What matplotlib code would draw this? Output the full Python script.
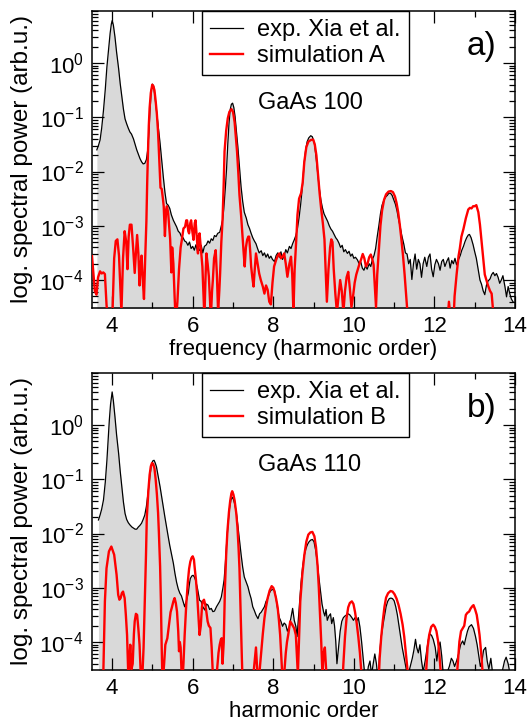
import matplotlib
matplotlib.use('Agg')
import matplotlib.pyplot as plt
import numpy as np
from matplotlib.ticker import FixedLocator, LogLocator, NullFormatter, FuncFormatter

plt.rcParams['font.family'] = ['Liberation Sans', 'DejaVu Sans']
plt.rcParams['mathtext.default'] = 'regular'
plt.rcParams['axes.unicode_minus'] = False

# panel a) GaAs 100 -- experiment (x = harmonic order, log10 of spectral power)
exp_a_x = [3.62, 3.66, 3.70, 3.74, 3.785, 3.83, 3.87, 3.91, 3.95, 3.98, 4.00, 4.03, 4.07, 4.11, 4.16, 4.20,
           4.24, 4.28, 4.32, 4.36, 4.40, 4.44, 4.48, 4.53, 4.57, 4.61, 4.65, 4.69, 4.73, 4.77, 4.81, 4.85,
           4.88, 4.91, 4.94, 4.97, 5.00, 5.03, 5.06, 5.10, 5.14, 5.19, 5.23, 5.27, 5.31, 5.35, 5.39, 5.43,
           5.47, 5.52, 5.56, 5.60, 5.64, 5.68, 5.72, 5.76, 5.80, 5.84, 5.88, 5.92, 5.96, 6.00, 6.04, 6.08,
           6.12, 6.17, 6.21, 6.25, 6.29, 6.34, 6.38, 6.42, 6.46, 6.50, 6.54, 6.58, 6.62, 6.67, 6.71, 6.74,
           6.77, 6.81, 6.84, 6.87, 6.90, 6.93, 6.96, 6.99, 7.02, 7.05, 7.08, 7.12, 7.16, 7.20, 7.24, 7.28,
           7.33, 7.37, 7.41, 7.45, 7.49, 7.53, 7.57, 7.61, 7.65, 7.70, 7.74, 7.78, 7.82, 7.86, 7.90, 7.94,
           7.98, 8.03, 8.07, 8.11, 8.15, 8.19, 8.23, 8.27, 8.31, 8.35, 8.40, 8.44, 8.48, 8.52, 8.56, 8.60,
           8.64, 8.68, 8.72, 8.76, 8.80, 8.84, 8.88, 8.93, 8.97, 9.02, 9.06, 9.10, 9.14, 9.18, 9.22, 9.26,
           9.31, 9.35, 9.39, 9.43, 9.47, 9.51, 9.55, 9.59, 9.63, 9.67, 9.71, 9.75, 9.79, 9.84, 9.88, 9.92,
           9.96, 10.00, 10.04, 10.09, 10.13, 10.17, 10.21, 10.25, 10.29, 10.33, 10.38, 10.42, 10.46, 10.50,
           10.54, 10.58, 10.62, 10.66, 10.70, 10.75, 10.79, 10.83, 10.87, 10.91, 10.95, 10.99, 11.03, 11.07,
           11.11, 11.15, 11.19, 11.24, 11.28, 11.32, 11.36, 11.40, 11.44, 11.48, 11.52, 11.56, 11.60, 11.64,
           11.68, 11.72, 11.76, 11.81, 11.85, 11.89, 11.93, 11.97, 12.01, 12.05, 12.10, 12.14, 12.18, 12.22,
           12.26, 12.31, 12.35, 12.39, 12.43, 12.47, 12.51, 12.55, 12.60, 12.64, 12.68, 12.72, 12.76, 12.80,
           12.84, 12.87, 12.91, 12.96, 13.00, 13.04, 13.09, 13.13, 13.17, 13.21, 13.25, 13.29, 13.33, 13.38,
           13.42, 13.46, 13.50, 13.54, 13.58, 13.62, 13.66, 13.70, 13.75, 13.79, 13.83, 13.87, 13.91, 13.95]
exp_a_log = [-1.60, -1.52, -1.42, -1.20, -0.87, -0.48, -0.07, 0.25, 0.55, 0.72, 0.78, 0.70, 0.48, 0.20, -0.10, -0.38,
             -0.62, -0.85, -1.03, -1.12, -1.20, -1.27, -1.31, -1.40, -1.50, -1.60, -1.68, -1.76, -1.82, -1.86, -1.85, -1.78,
             -1.62, -1.30, -0.87, -0.50, -0.39, -0.43, -0.60, -0.87, -1.15, -1.48, -1.80, -2.10, -2.38, -2.59, -2.62, -2.68,
             -2.80, -2.90, -2.96, -3.02, -3.10, -3.13, -3.20, -3.22, -3.28, -3.30, -3.36, -3.30, -3.42, -3.38, -3.45, -3.35,
             -3.47, -3.45, -3.36, -3.50, -3.38, -3.35, -3.28, -3.32, -3.24, -3.27, -3.18, -3.20, -3.14, -3.12, -3.00, -2.90,
             -2.70, -2.30, -1.95, -1.50, -1.12, -0.86, -0.76, -0.74, -0.82, -0.98, -1.22, -1.54, -1.92, -2.28, -2.55, -2.75,
             -2.86, -2.98, -3.05, -3.14, -3.22, -3.28, -3.33, -3.42, -3.50, -3.46, -3.55, -3.50, -3.58, -3.52, -3.60, -3.56,
             -3.62, -3.66, -3.55, -3.50, -3.58, -3.48, -3.62, -3.55, -3.44, -3.50, -3.38, -3.42, -3.33, -3.26, -3.18, -3.05,
             -2.85, -2.60, -2.30, -1.90, -1.62, -1.45, -1.38, -1.34, -1.36, -1.48, -1.72, -2.02, -2.30, -2.52, -2.67, -2.78,
             -2.86, -2.92, -3.00, -3.06, -3.10, -3.16, -3.22, -3.26, -3.32, -3.40, -3.36, -3.48, -3.44, -3.51, -3.47, -3.56,
             -3.52, -3.60, -3.58, -3.63, -3.70, -3.66, -3.78, -3.82, -3.74, -3.80, -3.70, -3.75, -3.62, -3.55,
             -3.42, -3.20, -3.00, -2.78, -2.62, -2.52, -2.47, -2.44, -2.40, -2.40, -2.44, -2.52, -2.60, -2.72,
             -2.88, -3.02, -3.18, -3.34, -3.50, -3.52, -3.70, -3.62, -3.99, -3.70, -3.52, -3.80, -3.62, -3.70,
             -3.95, -3.70, -3.58, -3.75, -3.58, -3.52, -3.80, -3.94, -3.72, -3.62, -3.70, -3.82, -3.66, -3.62,
             -3.75, -3.65, -3.59, -3.78, -3.64, -3.70, -3.60, -3.72, -3.62, -3.55, -3.45, -3.38, -3.29, -3.22,
             -3.17, -3.16, -3.22, -3.35, -3.48, -3.60, -3.82, -4.00, -4.08, -4.20, -4.27, -4.10, -4.02, -3.98,
             -3.90, -3.86, -3.92, -3.88, -3.95, -4.06, -4.00, -3.92, -4.12, -4.31, -4.12, -4.25, -4.35, -4.40]

# panel a) simulation A
sim_a_x = [3.50, 3.53, 3.57, 3.61, 3.65, 3.70, 3.74, 3.78, 3.82, 3.86, 3.90, 3.95, 4.00, 4.05, 4.09, 4.13,
           4.17, 4.20, 4.23, 4.27, 4.31, 4.35, 4.38, 4.41, 4.44, 4.48, 4.52, 4.56, 4.59, 4.62, 4.65, 4.68,
           4.71, 4.73, 4.76, 4.79, 4.82, 4.85, 4.87, 4.89, 4.91, 4.93, 4.96, 4.995, 5.02, 5.05, 5.08, 5.11,
           5.14, 5.16, 5.18, 5.20, 5.23, 5.26, 5.28, 5.31, 5.34, 5.36, 5.39, 5.42, 5.44, 5.47, 5.49, 5.52,
           5.55, 5.58, 5.62, 5.66, 5.70, 5.73, 5.77, 5.81, 5.84, 5.86, 5.89, 5.91, 5.94, 5.96, 5.99, 6.02,
           6.05, 6.07, 6.10, 6.13, 6.15, 6.17, 6.20, 6.24, 6.27, 6.29, 6.32, 6.34, 6.37, 6.40, 6.43, 6.45,
           6.48, 6.50, 6.53, 6.57, 6.60, 6.63, 6.66, 6.68, 6.71, 6.74, 6.77, 6.79, 6.83, 6.87, 6.91, 6.96,
           7.00, 7.04, 7.07, 7.10, 7.13, 7.16, 7.20, 7.23, 7.26, 7.29, 7.32, 7.35, 7.38, 7.40, 7.43, 7.45,
           7.48, 7.51, 7.54, 7.57, 7.61, 7.65, 7.69, 7.74, 7.78, 7.82, 7.86, 7.90, 7.94, 7.98, 8.02, 8.07,
           8.11, 8.15, 8.19, 8.23, 8.27, 8.31, 8.35, 8.40, 8.44, 8.47, 8.50, 8.53, 8.57, 8.60, 8.64, 8.69,
           8.73, 8.77, 8.82, 8.87, 8.93, 8.99, 9.03, 9.07, 9.11, 9.15, 9.19, 9.23, 9.27, 9.30, 9.33, 9.37,
           9.41, 9.44, 9.47, 9.50, 9.54, 9.58, 9.62, 9.66, 9.70, 9.74, 9.78, 9.82, 9.86, 9.90, 9.94, 9.98,
           10.02, 10.06, 10.10, 10.14, 10.18, 10.22, 10.26, 10.30, 10.34, 10.38, 10.42, 10.46, 10.49, 10.52,
           10.55, 10.58, 10.62, 10.66, 10.70, 10.75, 10.80, 10.86, 10.92, 10.97, 11.02, 11.06, 11.10, 11.14,
           11.18, 11.22, 11.26, 11.30, 11.34, 11.40, 12.30, 12.36, 12.40, 12.46, 12.50, 12.55, 12.60, 12.63,
           12.67, 12.72, 12.78, 12.84, 12.88, 12.92, 12.96, 13.00, 13.04, 13.09, 13.13, 13.17, 13.21, 13.25,
           13.29, 13.33, 13.38, 13.42, 13.46, 13.50]
sim_a_log = [-3.56, -3.83, -4.20, -4.27, -3.95, -3.84, -3.88, -3.86, -3.89, -4.45, -4.80, -5.00, -4.80, -3.60, -3.28, -3.25,
             -3.55, -4.10, -4.60, -3.60, -3.10, -3.30, -3.80, -3.20, -2.98, -2.98, -3.40, -3.87, -3.50, -3.17, -3.50, -4.10,
             -3.70, -3.55, -4.00, -4.35, -3.60, -2.92, -2.20, -1.63, -1.15, -0.83, -0.55, -0.40, -0.42, -0.50, -0.70, -0.94,
             -1.28, -1.61, -1.98, -2.30, -2.32, -2.50, -2.64, -3.19, -2.70, -2.64, -2.76, -3.05, -3.25, -3.86, -3.40, -3.70,
             -4.30, -4.80, -4.40, -3.80, -3.40, -3.26, -3.05, -3.02, -2.90, -2.90, -3.10, -3.14, -2.95, -2.90, -3.10, -3.26,
             -2.95, -2.90, -3.20, -3.51, -3.20, -3.14, -3.40, -3.75, -4.30, -4.70, -3.90, -3.51, -3.70, -3.93, -4.40, -4.70,
             -4.20, -4.00, -3.60, -3.45, -3.90, -4.60, -4.20, -3.88, -3.30, -2.90, -2.20, -1.63, -1.25, -1.02, -0.90, -0.85,
             -0.90, -1.09, -1.35, -1.63, -2.00, -2.43, -2.80, -3.14, -3.45, -3.75, -3.40, -3.26, -3.20, -3.20, -3.50, -3.75,
             -3.95, -4.12, -3.80, -3.51, -3.70, -3.88, -4.00, -4.12, -4.25, -4.10, -4.18, -4.40, -4.45, -4.05, -3.75, -3.63,
             -3.55, -3.51, -3.60, -3.57, -3.51, -3.70, -3.94, -3.70, -3.57, -3.90, -4.60, -3.80, -3.26, -2.80, -2.50, -2.40,
             -2.20, -1.82, -1.55, -1.45, -1.42, -1.41, -1.50, -1.70, -2.05, -2.40, -2.70, -2.95, -3.25, -3.85, -4.40, -3.80,
             -3.40, -3.25, -3.30, -3.80, -4.25, -4.60, -4.30, -4.00, -4.20, -4.60, -4.20, -3.95, -3.85, -4.15, -4.50, -4.30,
             -4.05, -3.90, -3.80, -3.70, -3.62, -3.52, -3.60, -3.75, -3.70, -3.58, -3.53, -3.62, -3.72, -4.10,
             -4.50, -3.90, -3.46, -3.00, -2.72, -2.52, -2.42, -2.37, -2.36, -2.38, -2.46, -2.58, -2.75, -2.98,
             -3.25, -3.55, -3.90, -4.30, -4.70, -5.00, -5.00, -4.40, -4.70, -5.00, -4.30, -3.90, -3.55, -3.42,
             -3.20, -3.06, -2.86, -2.70, -2.67, -2.68, -2.64, -2.64, -2.62, -2.75, -2.98, -3.29, -3.60, -3.90,
             -4.00, -4.10, -4.20, -4.25, -4.60, -5.00]

# panel b) GaAs 110 -- experiment
exp_b_x = [3.66, 3.70, 3.74, 3.785, 3.83, 3.87, 3.90, 3.93, 3.96, 4.00, 4.03, 4.07, 4.11, 4.16, 4.20, 4.24,
           4.28, 4.32, 4.36, 4.40, 4.44, 4.49, 4.53, 4.57, 4.61, 4.65, 4.69, 4.73, 4.77, 4.81, 4.85, 4.90,
           4.94, 4.98, 5.01, 5.04, 5.07, 5.10, 5.14, 5.19, 5.23, 5.27, 5.31, 5.35, 5.39, 5.43, 5.47, 5.52,
           5.56, 5.60, 5.64, 5.68, 5.72, 5.76, 5.80, 5.84, 5.89, 5.92, 5.94, 5.98, 6.01, 6.04, 6.07, 6.12,
           6.17, 6.21, 6.25, 6.30, 6.34, 6.38, 6.42, 6.46, 6.50, 6.54, 6.59, 6.63, 6.67, 6.71, 6.75, 6.78,
           6.81, 6.84, 6.88, 6.91, 6.95, 6.98, 7.01, 7.04, 7.08, 7.12, 7.16, 7.20, 7.24, 7.28, 7.33, 7.37,
           7.41, 7.45, 7.49, 7.53, 7.57, 7.62, 7.66, 7.70, 7.74, 7.78, 7.82, 7.86, 7.90, 7.94, 7.98, 8.03,
           8.07, 8.11, 8.15, 8.19, 8.23, 8.27, 8.31, 8.35, 8.40, 8.44, 8.48, 8.52, 8.56, 8.59, 8.62, 8.65,
           8.69, 8.73, 8.77, 8.81, 8.85, 8.89, 8.93, 8.97, 9.01, 9.05, 9.09, 9.13, 9.17, 9.21, 9.25, 9.28,
           9.31, 9.34, 9.38, 9.42, 9.45, 9.49, 9.52, 9.55, 9.58, 9.62, 9.66, 9.70, 9.74, 9.78, 9.82, 9.86,
           9.90, 9.95, 9.99, 10.03, 10.07, 10.11, 10.15, 10.19, 10.23, 10.27, 10.31, 10.36, 10.40, 10.44,
           10.48, 10.52, 10.56, 10.60, 10.64, 10.68, 10.72, 10.76, 10.80, 10.84, 10.88, 10.92, 10.96, 11.00,
           11.04, 11.08, 11.12, 11.16, 11.20, 11.25, 11.30, 11.35, 11.40, 11.45, 11.49, 11.53, 11.56, 11.60,
           11.64, 11.68, 11.72, 11.77, 11.81, 11.85, 11.89, 11.93, 11.97, 12.02, 12.06, 12.10, 12.14, 12.18,
           12.22, 12.27, 12.32, 12.37, 12.42, 12.46, 12.50, 12.55, 12.60, 12.65, 12.70, 12.74, 12.78, 12.82,
           12.86, 12.92, 12.97, 13.02, 13.06, 13.10, 13.14, 13.18, 13.22, 13.27, 13.31, 13.35, 13.40, 13.44,
           13.50, 13.56, 13.62, 13.68, 13.74, 13.78, 13.83, 13.88, 13.93]
exp_b_log = [-1.75, -1.66, -1.55, -1.38, -1.05, -0.65, -0.28, 0.09, 0.38, 0.61, 0.45, 0.15, -0.18, -0.52, -0.85, -1.14,
             -1.42, -1.63, -1.74, -1.80, -1.84, -1.88, -1.90, -1.92, -1.92, -1.88, -1.85, -1.81, -1.74, -1.66, -1.50, -1.20,
             -0.92, -0.71, -0.66, -0.65, -0.70, -0.77, -0.93, -1.14, -1.33, -1.51, -1.70, -1.88, -2.05, -2.22, -2.37, -2.55,
             -2.74, -2.90, -3.02, -3.10, -3.15, -3.25, -3.35, -3.25, -3.10, -2.92, -2.83, -2.78, -2.77, -2.80, -2.86, -3.02,
             -3.23, -3.25, -3.35, -3.41, -3.30, -3.32, -3.40, -3.38, -3.44, -3.43, -3.35, -3.30, -3.25, -3.17, -3.00, -2.85,
             -2.55, -2.20, -1.80, -1.55, -1.38, -1.33, -1.37, -1.45, -1.60, -1.85, -2.12, -2.38, -2.62, -2.80, -2.90, -2.98,
             -3.10, -3.20, -3.35, -3.42, -3.50, -3.57, -3.48, -3.45, -3.40, -3.35, -3.25, -3.20, -3.10, -3.05, -3.03, -3.05,
             -3.20, -3.41, -3.55, -3.62, -3.71, -3.65, -3.68, -3.80, -3.71, -3.55, -3.38, -3.60, -3.71, -3.90, -3.60, -3.30,
             -2.90, -2.60, -2.40, -2.28, -2.20, -2.15, -2.12, -2.11, -2.15, -2.30, -2.52, -2.80, -3.05, -3.30, -3.45, -3.52,
             -3.40, -3.60, -3.52, -3.48, -3.66, -3.55, -3.70, -3.98, -4.40, -4.10, -3.80, -3.62, -3.55, -3.52, -3.50, -3.48,
             -3.50, -3.55, -3.60, -3.55, -3.62, -3.55, -3.72, -3.98, -4.30, -4.60, -4.70, -4.45, -4.35, -4.60,
             -4.40, -4.22, -4.40, -4.70, -4.20, -3.90, -3.70, -3.52, -3.35, -3.25, -3.20, -3.19, -3.20, -3.24,
             -3.35, -3.50, -3.70, -3.90, -4.10, -4.30, -4.50, -4.60, -4.45, -4.30, -4.15, -3.95, -4.10, -4.20,
             -4.05, -4.35, -4.55, -4.35, -4.15, -3.95, -3.85, -3.88, -3.95, -4.10, -4.35, -4.10, -4.00, -4.25,
             -4.60, -4.65, -4.55, -4.45, -4.30, -4.35, -4.45, -4.35, -4.22, -4.05, -3.98, -4.05, -3.92, -3.80,
             -3.72, -3.68, -3.75, -3.90, -4.05, -4.25, -4.45, -4.35, -4.15, -4.10, -4.35, -4.50, -4.30, -4.55,
             -4.70, -4.80, -4.60, -4.55, -4.35, -4.28, -4.40, -4.60, -4.70]

# panel b) simulation B
sim_b_x = [3.74, 3.78, 3.82, 3.86, 3.92, 3.98, 4.05, 4.11, 4.15, 4.18, 4.21, 4.24, 4.27, 4.31, 4.34, 4.37,
           4.40, 4.43, 4.45, 4.48, 4.51, 4.54, 4.56, 4.59, 4.62, 4.65, 4.68, 4.71, 4.74, 4.78, 4.81, 4.84,
           4.86, 4.90, 4.93, 4.96, 4.99, 5.02, 5.05, 5.08, 5.11, 5.14, 5.16, 5.19, 5.21, 5.23, 5.25, 5.29,
           5.32, 5.37, 5.42, 5.45, 5.48, 5.52, 5.55, 5.58, 5.61, 5.64, 5.66, 5.68, 5.70, 5.72, 5.74, 5.77,
           5.80, 5.84, 5.88, 5.91, 5.94, 5.97, 6.00, 6.03, 6.05, 6.08, 6.11, 6.14, 6.17, 6.20, 6.23, 6.25,
           6.28, 6.31, 6.34, 6.37, 6.40, 6.44, 6.47, 6.50, 6.55, 6.60, 6.64, 6.67, 6.70, 6.72, 6.74, 6.77,
           6.80, 6.83, 6.86, 6.90, 6.93, 6.96, 6.98, 7.01, 7.04, 7.08, 7.11, 7.14, 7.16, 7.18, 7.20, 7.22,
           7.24, 7.35, 7.48, 7.53, 7.57, 7.60, 7.64, 7.70, 7.74, 7.78, 7.82, 7.86, 7.91, 7.96, 8.00, 8.03,
           8.07, 8.11, 8.14, 8.17, 8.20, 8.23, 8.27, 8.31, 8.34, 8.37, 8.42, 8.47, 8.52, 8.56, 8.59, 8.61,
           8.64, 8.67, 8.72, 8.77, 8.82, 8.87, 8.92, 8.97, 9.02, 9.06, 9.10, 9.13, 9.16, 9.19, 9.22, 9.25,
           9.28, 9.31, 9.35, 9.70, 9.74, 9.78, 9.82, 9.86, 9.90, 9.95, 9.99, 10.03, 10.07, 10.11, 10.15, 10.19,
           10.23, 10.60, 10.64, 10.68, 10.72, 10.76, 10.80, 10.85, 10.91, 10.96, 11.01, 11.06, 11.11, 11.16,
           11.21, 11.25, 11.29, 11.33, 11.37, 11.45, 11.75, 11.79, 11.83, 11.87, 11.92, 11.97, 12.01, 12.05,
           12.09, 12.12, 12.15, 12.18, 12.25, 12.52, 12.57, 12.62, 12.66, 12.70, 12.74, 12.78, 12.82, 12.86,
           12.90, 12.94, 12.97, 13.01, 13.05, 13.09, 13.12, 13.16, 13.20, 13.24]
sim_b_log = [-5.00, -4.60, -3.25, -2.64, -2.33, -2.24, -2.39, -2.76, -3.13, -3.22, -3.19, -3.10, -3.07, -3.19, -3.50, -3.87,
             -4.60, -4.30, -4.05, -4.50, -4.40, -3.85, -3.62, -3.48, -3.50, -3.75, -4.05, -4.60, -4.80, -4.10, -3.25, -2.40,
             -1.71, -1.20, -0.92, -0.76, -0.70, -0.72, -0.80, -1.00, -1.27, -1.62, -1.98, -2.60, -3.25, -4.10, -4.80, -4.40,
             -4.05, -3.93, -3.62, -3.45, -3.37, -3.25, -3.19, -3.28, -3.44, -3.80, -4.17, -4.00, -4.10, -4.50, -4.80, -4.40,
             -3.87, -3.30, -2.88, -2.65, -2.52, -2.45, -2.42, -2.48, -2.64, -2.85, -3.13, -3.50, -3.87, -3.70, -3.35, -3.25,
             -3.22, -3.31, -3.45, -3.62, -3.70, -3.74, -4.10, -4.60, -4.80, -4.55, -4.20, -4.05, -3.95, -3.93, -4.40, -4.00,
             -3.00, -2.40, -1.97, -1.60, -1.40, -1.26, -1.22, -1.28, -1.39, -1.62, -1.88, -2.30, -2.64, -3.20, -3.74, -4.30,
             -4.80, -5.00, -4.80, -4.40, -4.10, -4.50, -4.70, -4.20, -3.85, -3.56, -3.35, -3.19, -3.05, -2.97, -3.00, -3.07,
             -3.20, -3.37, -3.60, -3.87, -4.30, -4.70, -4.60, -4.20, -4.00, -3.87, -3.62, -3.68, -3.75, -3.87, -4.30, -4.60,
             -3.90, -3.25, -2.76, -2.40, -2.15, -2.02, -1.98, -1.97, -2.05, -2.25, -2.60, -3.00, -3.50, -4.00, -4.60, -4.20,
             -4.10, -4.50, -5.00, -5.00, -4.40, -3.90, -3.55, -3.36, -3.28, -3.25, -3.30, -3.45, -3.65, -3.90, -4.20, -4.60,
             -5.00, -5.00, -4.30, -3.90, -3.60, -3.35, -3.18, -3.10, -3.06, -3.07, -3.12, -3.20, -3.32, -3.48,
             -3.68, -3.90, -4.20, -4.50, -4.80, -5.00, -5.00, -4.60, -4.10, -3.87, -3.72, -3.68, -3.72, -3.80,
             -3.98, -4.20, -4.50, -4.80, -5.00, -5.00, -4.50, -3.99, -3.80, -3.75, -3.70, -3.50, -3.46, -3.44,
             -3.38, -3.34, -3.32, -3.40, -3.50, -3.70, -3.87, -4.20, -4.60, -5.00]

panels = [
    ('a)', 'GaAs 100', 'simulation A', 'frequency (harmonic order)', exp_a_x, exp_a_log, sim_a_x, sim_a_log),
    ('b)', 'GaAs 110', 'simulation B', 'harmonic order', exp_b_x, exp_b_log, sim_b_x, sim_b_log),
]

fig = plt.figure(figsize=(5.30, 7.23), dpi=100)
rects = [[0.1736, 0.5740, 0.7981, 0.4108], [0.1736, 0.0733, 0.7981, 0.4108]]

for rect, (tag, sample, sim_name, xlabel, ex, ey, sx, sy) in zip(rects, panels):
    ax = fig.add_axes(rect)
    ex = np.array(ex)
    ey = 10.0 ** np.array(ey)
    sx = np.array(sx)
    sy = 10.0 ** np.array(sy)

    ax.fill_between(ex, ey, 1e-7, color='#d9d9d9', lw=0, zorder=1)
    ax.plot(ex, ey, color='black', lw=0.9, zorder=2, label='exp. Xia et al.')
    ax.plot(sx, sy, color='#ff0000', lw=1.7, zorder=3, label=sim_name)

    ax.set_yscale('log')
    ax.set_xlim(3.5, 14)
    ax.set_ylim(3.05e-5, 9.1)

    ax.xaxis.set_major_locator(FixedLocator([4, 6, 8, 10, 12, 14]))
    ax.xaxis.set_minor_locator(FixedLocator([5, 7, 9, 11, 13]))
    ax.yaxis.set_major_locator(FixedLocator([1e-4, 1e-3, 1e-2, 1e-1, 1e0]))
    ax.yaxis.set_minor_locator(LogLocator(base=10, subs=np.arange(2, 10)))
    ax.yaxis.set_minor_formatter(NullFormatter())
    ax.yaxis.set_major_formatter(FuncFormatter(lambda v, p: '$10^{%d}$' % round(np.log10(v))))

    ax.tick_params(which='both', direction='in', top=True, right=True, width=0.9, labelsize=16)
    ax.tick_params(which='major', length=8.5, pad=6)
    ax.tick_params(which='minor', length=4.5)
    for sp in ax.spines.values():
        sp.set_linewidth(1.1)

    ax.set_ylabel('log. spectral power (arb.u.)', fontsize=17.5)
    ax.yaxis.set_label_coords(-0.14, 0.5)
    ax.set_xlabel(xlabel, fontsize=16)
    ax.xaxis.set_label_coords(0.5, -0.105)

    leg = ax.legend(loc='upper left', bbox_to_anchor=(0.26, 1.0), borderaxespad=0,
                    fontsize=17, handlelength=1.4, handletextpad=0.6, labelspacing=0.15,
                    borderpad=0.35, frameon=True, fancybox=False, edgecolor='black', framealpha=1)
    leg.get_frame().set_linewidth(1.0)

    ax.text(0.392, 0.69, sample, transform=ax.transAxes, fontsize=17, va='center', ha='left')
    ax.text(0.885, 0.88, tag, transform=ax.transAxes, fontsize=24, va='center', ha='left')

fig.savefig('out.png', dpi=100)
